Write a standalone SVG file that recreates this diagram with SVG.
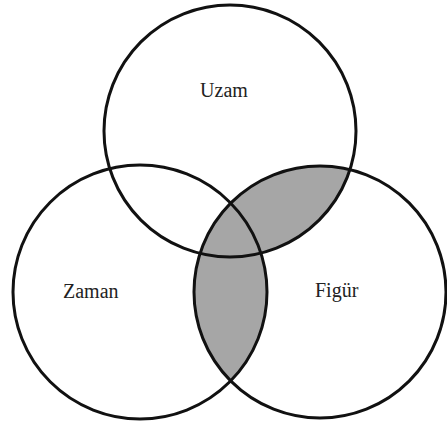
<svg xmlns="http://www.w3.org/2000/svg" width="447" height="429" viewBox="0 0 447 429">
<style>
.c{fill:none;stroke:#111;stroke-width:3}
.t{font-family:'Liberation Serif','DejaVu Serif',serif;font-size:20px;fill:#222}
.g{fill:#a6a6a6}
</style>
<defs>
<clipPath id="clipR"><circle cx="320" cy="292" r="126"/></clipPath>
</defs>
<rect width="447" height="429" fill="#fff"/>
<g id="shading" clip-path="url(#clipR)">
<circle class="g" cx="230" cy="131" r="126"/>
<circle class="g" cx="140" cy="292" r="127"/>
</g>
<g id="uzam">
<circle class="c" cx="230" cy="131" r="126"/>
<text class="t" x="224" y="97" text-anchor="middle" font-family="Liberation Serif, serif">Uzam</text>
</g>
<g id="zaman">
<circle class="c" cx="140" cy="292" r="127"/>
<text class="t" x="63" y="298" font-family="Liberation Serif, serif">Zaman</text>
</g>
<g id="figur">
<circle class="c" cx="320" cy="292" r="126"/>
<text class="t" x="315" y="297" font-family="Liberation Serif, serif">Figür</text>
</g>
</svg>
